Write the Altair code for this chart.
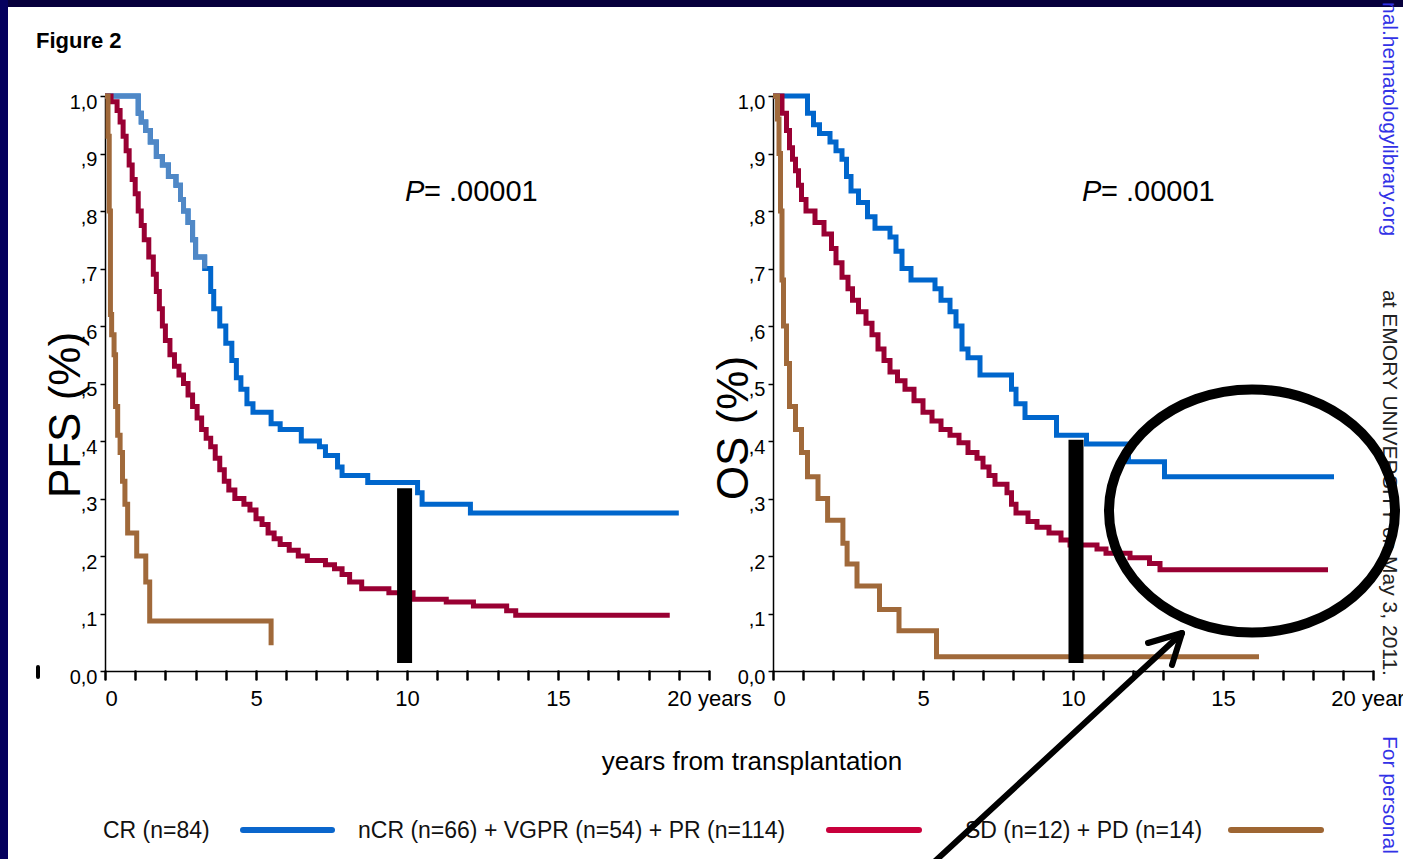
import altair as alt
import pandas as pd

# ---------------- data ----------------
# PFS panel, step-after change points (years, survival fraction)
pfs_cr_t = [0, 1.1, 1.2, 1.35, 1.5, 1.7, 1.9, 2.1, 2.35, 2.5, 2.6, 2.75, 2.9, 3.0, 3.3, 3.5, 3.6, 3.8, 4.0, 4.2,
            4.35, 4.5, 4.7, 4.9, 5.5, 5.8, 6.5, 7.1, 7.3, 7.7, 7.85, 8.7, 10.35, 10.5, 12.1, 19.0]
pfs_cr_s = [1.0, 0.97, 0.955, 0.94, 0.92, 0.895, 0.88, 0.86, 0.845, 0.82, 0.8, 0.78, 0.75, 0.72, 0.70, 0.66, 0.63,
            0.60, 0.57, 0.54, 0.51, 0.49, 0.465, 0.45, 0.43, 0.42, 0.40, 0.39, 0.375, 0.355, 0.34, 0.328, 0.31,
            0.29, 0.275, 0.275]
pfs_cr_light_points = 15  # first part of the CR curve is printed in a lighter blue

pfs_pr_t = [0, 0.2, 0.4, 0.5, 0.6, 0.7, 0.8, 0.9, 1.0, 1.1, 1.2, 1.3, 1.45, 1.6, 1.7, 1.8, 1.9, 2.0, 2.15, 2.3,
            2.45, 2.6, 2.75, 2.9, 3.05, 3.2, 3.35, 3.5, 3.65, 3.8, 3.95, 4.1, 4.3, 4.6, 4.8, 5.0, 5.2, 5.4, 5.6,
            5.8, 6.1, 6.4, 6.7, 7.3, 7.6, 7.85, 8.1, 8.5, 9.4, 10.2, 11.3, 12.2, 13.3, 13.6, 18.7]
pfs_pr_s = [1.0, 0.99, 0.975, 0.955, 0.93, 0.905, 0.88, 0.855, 0.83, 0.80, 0.775, 0.75, 0.72, 0.69, 0.66, 0.63,
            0.60, 0.575, 0.55, 0.53, 0.515, 0.50, 0.48, 0.46, 0.44, 0.42, 0.405, 0.39, 0.37, 0.35, 0.33, 0.315,
            0.30, 0.29, 0.28, 0.265, 0.255, 0.24, 0.23, 0.22, 0.21, 0.20, 0.192, 0.185, 0.178, 0.168, 0.155,
            0.143, 0.136, 0.125, 0.12, 0.113, 0.105, 0.097, 0.097]

pfs_sd_t = [0, 0.1, 0.14, 0.18, 0.22, 0.3, 0.35, 0.42, 0.5, 0.58, 0.66, 0.75, 1.05, 1.35, 1.48, 5.5]
pfs_sd_s = [1.0, 0.93, 0.80, 0.62, 0.585, 0.55, 0.46, 0.41, 0.38, 0.33, 0.29, 0.24, 0.20, 0.155, 0.087, 0.045]

# OS panel
os_cr_t = [0, 1.15, 1.35, 1.55, 1.9, 2.1, 2.3, 2.45, 2.6, 2.85, 3.15, 3.4, 3.9, 4.1, 4.3, 4.6, 5.4, 5.6, 5.9,
           6.1, 6.3, 6.5, 6.9, 7.95, 8.1, 8.4, 9.45, 10.45, 11.85, 13.05, 18.7]
os_cr_s = [1.0, 0.97, 0.95, 0.935, 0.92, 0.905, 0.89, 0.86, 0.835, 0.815, 0.79, 0.77, 0.755, 0.73, 0.70, 0.68,
           0.665, 0.645, 0.625, 0.60, 0.56, 0.545, 0.515, 0.49, 0.465, 0.441, 0.41, 0.395, 0.364, 0.338, 0.338]

os_pr_t = [0, 0.3, 0.45, 0.55, 0.65, 0.75, 0.85, 0.95, 1.1, 1.4, 1.7, 1.95, 2.1, 2.3, 2.5, 2.65, 2.85, 3.1, 3.3,
           3.5, 3.7, 3.9, 4.15, 4.4, 4.7, 5.0, 5.3, 5.6, 5.9, 6.2, 6.5, 6.8, 7.0, 7.2, 7.4, 7.8, 7.95, 8.1, 8.5,
           8.8, 9.2, 9.6, 9.9, 10.8, 11.1, 11.9, 12.55, 12.9, 18.5]
os_pr_s = [1.0, 0.97, 0.94, 0.91, 0.89, 0.87, 0.845, 0.82, 0.80, 0.78, 0.76, 0.735, 0.71, 0.685, 0.665, 0.645,
           0.625, 0.605, 0.585, 0.56, 0.54, 0.52, 0.505, 0.49, 0.47, 0.45, 0.435, 0.42, 0.41, 0.397, 0.38, 0.37,
           0.355, 0.34, 0.325, 0.31, 0.29, 0.275, 0.26, 0.25, 0.24, 0.228, 0.219, 0.212, 0.205, 0.197, 0.187,
           0.176, 0.176]

os_sd_t = [0, 0.15, 0.2, 0.25, 0.3, 0.35, 0.45, 0.55, 0.75, 0.95, 1.15, 1.5, 1.82, 2.33, 2.47, 2.8, 3.55, 4.2,
           5.45, 16.2]
os_sd_s = [1.0, 0.96, 0.90, 0.80, 0.68, 0.60, 0.535, 0.46, 0.42, 0.38, 0.338, 0.30, 0.262, 0.222, 0.186, 0.148,
           0.107, 0.07, 0.025, 0.025]

# annotation: thick black bars at the 10-year mark (years, from / to survival)
bar_pfs = {"t": [9.92], "s0": [0.014], "s1": [0.318]}
bar_os = {"t": [10.1], "s0": [0.014], "s1": [0.402]}

x_ticks = list(range(0, 21))
y_ticks = [0.0, 0.1, 0.2, 0.3, 0.4, 0.5, 0.6, 0.7, 0.8, 0.9, 1.0]

legend_labels = ["CR (n=84)", "nCR (n=66) + VGPR (n=54) + PR (n=114)", "SD (n=12) + PD (n=14)"]
legend_colors = ["#0a66cc", "#c8003c", "#9e6633"]
p_text = ["P", "= .00001"]
watermark = ["nal.hematologylibrary.org", "at EMORY UNIVERSITY on May 3, 2011.", "For personal use only."]

# ---------------- styling ----------------
W, H = 1403, 859
SANS = "Liberation Sans, Arial, sans-serif"
C_BLUE, C_BLUE_LIGHT, C_RED, C_BROWN = "#0066cc", "#5088c6", "#990033", "#a0693a"
LINE_W = 5

X0_AXIS = 671  # pixel row of the x axes
Y_SCALE = alt.Scale(domain=[0, 1], range=[671, 96], nice=False, zero=False)
X_SCALE_PFS = alt.Scale(domain=[0, 20], range=[105, 709], nice=False, zero=False)
X_SCALE_OS = alt.Scale(domain=[0, 20], range=[773, 1373], nice=False, zero=False)


def x_axis():
    return alt.Axis(
        orient="bottom", offset=X0_AXIS - H, values=x_ticks, grid=False, title=None,
        labelExpr="datum.value % 5 == 0 ? (datum.value == 20 ? '20 years' : format(datum.value, 'd')) : ''",
        labelFlush=False, labelOverlap=False, labelFont=SANS, labelFontSize=22, labelColor="black",
        labelPadding=9, tickSize=8, tickWidth=2.5, tickColor="black", tickCap="round",
        domainColor="black", domainWidth=1.5,
        labelAlign={"condition": {"test": "datum.value == 0", "value": "left"}, "value": "center"},
    )


def y_axis(xpos):
    return alt.Axis(
        orient="left", offset=-xpos, values=y_ticks, grid=False, title=None,
        labelExpr="datum.value == 0 ? '0,0' : (datum.value == 1 ? '1,0' : ',' + round(datum.value * 10))",
        labelOverlap=False, labelFont=SANS, labelFontSize=20, labelColor="black", labelPadding=3,
        labelOffset=6, tickSize=5, tickWidth=1.5, tickColor="black", domainColor="black", domainWidth=1.5,
    )


def curve(t, s, color, xs, xa, ya):
    df = pd.DataFrame({"t": t, "s": s})
    return alt.Chart(df).mark_line(interpolate="step-after", color=color, strokeWidth=LINE_W,
                                   strokeJoin="miter", strokeCap="butt").encode(
        x=alt.X("t:Q", scale=xs, axis=xa), y=alt.Y("s:Q", scale=Y_SCALE, axis=ya))


def bar(d, xs, xa, ya):
    return alt.Chart(pd.DataFrame(d)).mark_rule(color="black", strokeWidth=15).encode(
        x=alt.X("t:Q", scale=xs, axis=xa), y=alt.Y("s0:Q", scale=Y_SCALE, axis=ya), y2="s1:Q")


xa_p, ya_p = x_axis(), y_axis(105)
pfs_panel = alt.layer(
    curve(pfs_cr_t, pfs_cr_s, C_BLUE, X_SCALE_PFS, xa_p, ya_p),
    curve(pfs_cr_t[:pfs_cr_light_points], pfs_cr_s[:pfs_cr_light_points], C_BLUE_LIGHT, X_SCALE_PFS, xa_p, ya_p),
    curve(pfs_pr_t, pfs_pr_s, C_RED, X_SCALE_PFS, xa_p, ya_p),
    curve(pfs_sd_t, pfs_sd_s, C_BROWN, X_SCALE_PFS, xa_p, ya_p),
    bar(bar_pfs, X_SCALE_PFS, xa_p, ya_p),
)

xa_o, ya_o = x_axis(), y_axis(773)
os_panel = alt.layer(
    curve(os_cr_t, os_cr_s, C_BLUE, X_SCALE_OS, xa_o, ya_o),
    curve(os_pr_t, os_pr_s, C_RED, X_SCALE_OS, xa_o, ya_o),
    curve(os_sd_t, os_sd_s, C_BROWN, X_SCALE_OS, xa_o, ya_o),
    bar(bar_os, X_SCALE_OS, xa_o, ya_o),
)

one = pd.DataFrame({"k": [0]})


def text(txt, x, y, size, font=SANS, align="left", baseline="alphabetic", angle=0, color="black",
         weight="normal", style="normal"):
    return alt.Chart(one).mark_text(text=txt, font=font, fontSize=size, align=align, baseline=baseline,
                                    angle=angle, color=color, fontWeight=weight, fontStyle=style).encode(
        x=alt.value(x), y=alt.value(y))


def seg(x1, y1, x2, y2, width, color="black", cap="round"):
    return alt.Chart(one).mark_rule(color=color, strokeWidth=width, strokeCap=cap).encode(
        x=alt.value(x1), y=alt.value(y1), x2=alt.value(x2), y2=alt.value(y2))


def rect(x1, y1, x2, y2, color):
    return alt.Chart(one).mark_rect(color=color).encode(
        x=alt.value(x1), y=alt.value(y1), x2=alt.value(x2), y2=alt.value(y2))


deco = [
    rect(0, 0, W, 7, "#07003c"),
    rect(0, 0, 8, H, "#05005e"),
    text("Figure 2", 36, 48, 22, weight="bold"),
    text(p_text[0], 405, 201, 29, style="italic"),
    text(p_text[1], 424, 201, 29),
    text(p_text[0], 1082, 201, 29, style="italic"),
    text(p_text[1], 1101, 201, 29),
    text("PFS (%)", 80, 415, 44, align="center", angle=270),
    text("OS (%)", 748, 428, 44, align="center", angle=270),
    text("years from transplantation", 752, 770, 26, align="center"),
    seg(38, 667, 38, 677, 4),
    # legend
    text(legend_labels[0], 103, 838, 23, color="#111111"),
    seg(243, 830, 332, 830, 6, legend_colors[0]),
    text(legend_labels[1], 358, 838, 23, color="#111111"),
    seg(829, 830, 919, 830, 6, legend_colors[1]),
    text(legend_labels[2], 965, 838, 23, color="#111111"),
    seg(1231, 830, 1321, 830, 6, legend_colors[2]),
    # watermark
    text(watermark[0], 1383, 2, 21, angle=90, color="#3232e6"),
    text(watermark[1], 1383, 290, 21, angle=90, color="#222222"),
    text(watermark[2], 1383, 736, 21, angle=90, color="#3232e6"),
    # ellipse and arrow annotation
    alt.Chart(one).mark_point(
        shape="M -1 0 A 1 0.85 0 1 0 1 0 A 1 0.85 0 1 0 -1 0 Z", size=286 * 286, filled=False,
        strokeWidth=10, color="black", opacity=1).encode(x=alt.value(1252), y=alt.value(511)),
    seg(932, 864, 1181, 634, 6),
    seg(1182, 633, 1148, 643, 6),
    seg(1182, 633, 1172, 665, 6),
]

chart = alt.layer(pfs_panel, os_panel, *deco).resolve_scale(x="independent", y="independent").properties(
    width=W, height=H, autosize=alt.AutoSizeParams(type="none"), padding=0, background="white"
).configure_view(stroke=None)

chart.save("out.html", embed_options={"renderer": "svg", "actions": False})
